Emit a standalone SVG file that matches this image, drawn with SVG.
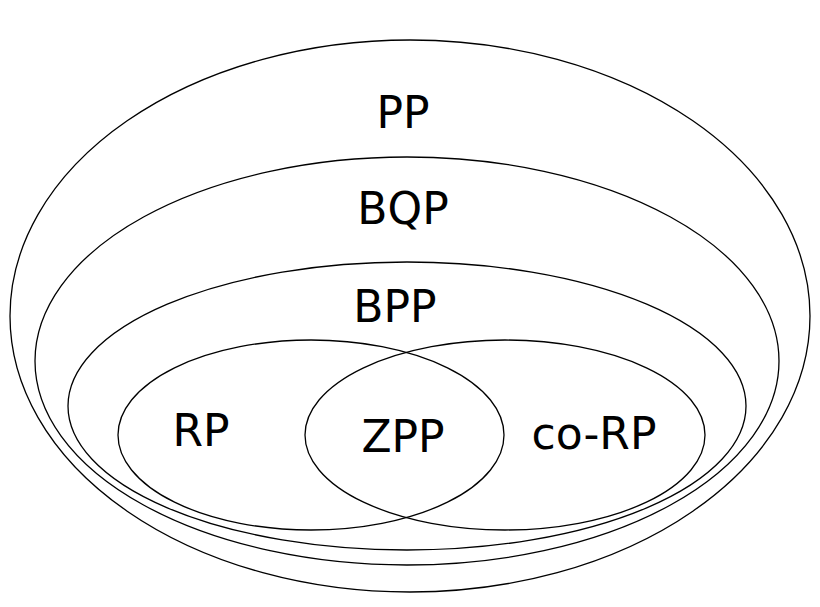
<svg xmlns="http://www.w3.org/2000/svg" width="820" height="607" viewBox="0 0 820 607">
<style>
ellipse{fill:none;stroke:#000;stroke-width:1.3}
text{font-family:"DejaVu Sans",sans-serif;font-size:44px;text-anchor:middle;fill:#000}
</style>
<rect width="820" height="607" fill="#fff"/>
<g id="PP"><ellipse cx="410" cy="316" rx="400" ry="276"/><text x="403" y="128">PP</text></g>
<g id="BQP"><ellipse cx="407" cy="361" rx="372" ry="204"/><text x="403" y="224">BQP</text></g>
<g id="BPP"><ellipse cx="407" cy="406" rx="339" ry="144"/><text x="395" y="322">BPP</text></g>
<g id="RP"><ellipse cx="311" cy="435" rx="193" ry="95"/><text x="201" y="446">RP</text></g>
<g id="coRP"><ellipse cx="505" cy="435" rx="200" ry="95"/><text x="594" y="449">co-RP</text></g>
<g id="ZPP"><text x="403" y="452">ZPP</text></g>
<g id="connectors"/>
</svg>
